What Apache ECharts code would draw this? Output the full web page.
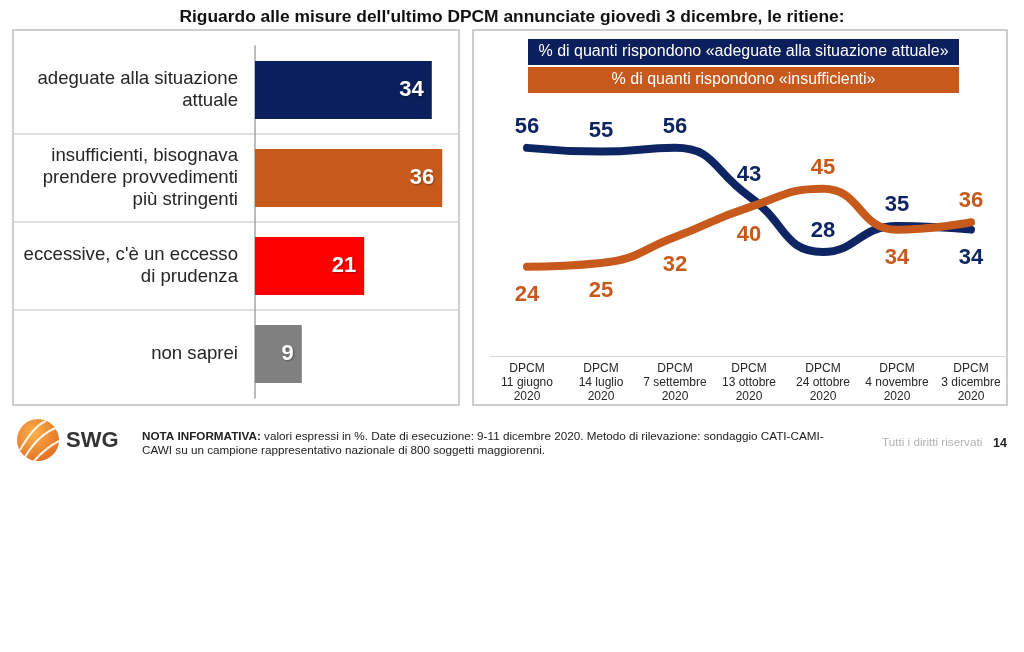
<!DOCTYPE html>
<html>
<head>
<meta charset="utf-8">
<script src="https://cdn.jsdelivr.net/npm/echarts@6/dist/echarts.min.js"></script>
<style>
html,body{margin:0;padding:0;background:#fff;}
#c{width:1024px;height:652px;}
</style>
</head>
<body>
<div id="c"></div>
<script>
// ---- data ----
const barCategories = [
  'adeguate alla situazione\nattuale',
  'insufficienti, bisognava\nprendere provvedimenti\npiù stringenti',
  "eccessive, c'è un eccesso\ndi prudenza",
  'non saprei'
];
const barValues = [34, 36, 21, 9];

const lineCategories = [
  'DPCM\n11 giugno\n2020',
  'DPCM\n14 luglio\n2020',
  'DPCM\n7 settembre\n2020',
  'DPCM\n13 ottobre\n2020',
  'DPCM\n24 ottobre\n2020',
  'DPCM\n4 novembre\n2020',
  'DPCM\n3 dicembre\n2020'
];
const adeguateValues = [56, 55, 56, 43, 28, 35, 34];
const insufficientiValues = [24, 25, 32, 40, 45, 34, 36];
const seriesNames = [
  '% di quanti rispondono «adeguate alla situazione attuale»',
  '% di quanti rispondono «insufficienti»'
];

// ---- styles ----
const NAVY = '#0d2563';
const ORANGE = '#c8591c';
const barColors = ['#0a1f5c', ORANGE, '#ff0000', '#808080'];
const adeguateLabelPos = ['top', 'top', 'top', 'top', 'top', 'top', 'bottom'];
const insufficientiLabelPos = ['bottom', 'bottom', 'bottom', 'bottom', 'top', 'bottom', 'top'];
const FONT = "'Liberation Sans', Arial, sans-serif";

const chart = echarts.init(document.getElementById('c'), null, {renderer: 'canvas'});

const lineLabel = (color) => ({
  show: true, color: color, fontSize: 22, fontWeight: 'bold', fontFamily: FONT, distance: 9
});
const itemLabel = (pos) => ({position: pos, distance: pos === 'top' ? 9 : 16});

const option = {
  backgroundColor: '#ffffff',
  animation: false,
  textStyle: {fontFamily: FONT},
  title: {
    text: "Riguardo alle misure dell'ultimo DPCM annunciate giovedì 3 dicembre, le ritiene:",
    left: 'center', top: 4,
    textStyle: {fontSize: 17.4, fontWeight: 'bold', color: '#111', fontFamily: FONT}
  },
  grid: [
    {left: 255, top: 46, width: 208, height: 352},
    {left: 490, top: 133, width: 518, height: 223}
  ],
  xAxis: [
    {gridIndex: 0, type: 'value', min: 0, max: 40, show: false},
    {gridIndex: 1, type: 'category', data: lineCategories, boundaryGap: true,
     axisLine: {show: true, lineStyle: {color: '#d9d9d9', width: 1}},
     axisTick: {show: false},
     axisLabel: {color: '#262626', fontSize: 12, lineHeight: 14, margin: 6, fontFamily: FONT, interval: 0}
    }
  ],
  yAxis: [
    {gridIndex: 0, type: 'category', data: barCategories, inverse: true,
     axisLine: {show: true, lineStyle: {color: '#a6a6a6', width: 1.5}},
     axisTick: {show: false},
     axisLabel: {color: '#262626', fontSize: 18.6, lineHeight: 22, margin: 17, align: 'right', fontFamily: FONT}
    },
    {gridIndex: 1, type: 'value', min: 0, max: 60, show: false, splitLine: {show: false}}
  ],
  series: [
    {
      type: 'bar', xAxisIndex: 0, yAxisIndex: 0,
      barCategoryGap: '34%',
      data: barValues.map((v, i) => ({value: v, itemStyle: {color: barColors[i]}})),
      label: {
        show: true, position: 'insideRight', distance: 8,
        color: '#fff', fontSize: 22, fontWeight: 'bold', fontFamily: FONT,
        textShadowColor: 'rgba(0,0,0,0.35)', textShadowBlur: 2, textShadowOffsetX: 1, textShadowOffsetY: 1
      }
    },
    {
      type: 'line', name: seriesNames[0], xAxisIndex: 1, yAxisIndex: 1,
      smooth: 0.5, showSymbol: true, symbol: 'circle', symbolSize: 2,
      itemStyle: {color: NAVY},
      lineStyle: {color: NAVY, width: 8, cap: 'round', join: 'round'},
      data: adeguateValues.map((v, i) => ({value: v, label: itemLabel(adeguateLabelPos[i])})),
      label: lineLabel(NAVY), z: 3
    },
    {
      type: 'line', name: seriesNames[1], xAxisIndex: 1, yAxisIndex: 1,
      smooth: 0.5, showSymbol: true, symbol: 'circle', symbolSize: 2,
      itemStyle: {color: ORANGE},
      lineStyle: {color: ORANGE, width: 8, cap: 'round', join: 'round'},
      data: insufficientiValues.map((v, i) => ({value: v, label: itemLabel(insufficientiLabelPos[i])})),
      label: lineLabel(ORANGE), z: 4
    }
  ],
  graphic: [
    // panel frames
    {type: 'rect', shape: {x: 13, y: 30, width: 446, height: 375}, style: {fill: null, stroke: '#bfbfbf', lineWidth: 1.5}, silent: true},
    {type: 'rect', shape: {x: 473, y: 30, width: 534, height: 375}, style: {fill: null, stroke: '#bfbfbf', lineWidth: 1.5}, silent: true},
    // row dividers
    {type: 'line', shape: {x1: 13, y1: 134, x2: 459, y2: 134}, style: {stroke: '#bfbfbf', lineWidth: 1.2}, silent: true},
    {type: 'line', shape: {x1: 13, y1: 222, x2: 459, y2: 222}, style: {stroke: '#bfbfbf', lineWidth: 1.2}, silent: true},
    {type: 'line', shape: {x1: 13, y1: 310, x2: 459, y2: 310}, style: {stroke: '#bfbfbf', lineWidth: 1.2}, silent: true},
    // legend boxes
    {type: 'rect', shape: {x: 528, y: 39, width: 431, height: 26}, style: {fill: '#0a1f5c'}, silent: true},
    {type: 'text', x: 743.5, y: 52, style: {text: seriesNames[0], fill: '#fff', font: "16px " + FONT, align: 'center', verticalAlign: 'middle'}, silent: true},
    {type: 'rect', shape: {x: 528, y: 67, width: 431, height: 26}, style: {fill: ORANGE}, silent: true},
    {type: 'text', x: 743.5, y: 80, style: {text: seriesNames[1], fill: '#fff', font: "16px " + FONT, align: 'center', verticalAlign: 'middle'}, silent: true},
    // logo
    {type: 'circle', shape: {cx: 38, cy: 440, r: 21}, style: {fill: new echarts.graphic.RadialGradient(0.4, 0.35, 0.8, [{offset: 0, color: '#f9b24c'}, {offset: 1, color: '#e2641c'}])}, silent: true},
    {type: 'bezierCurve', shape: {x1: 20, y1: 450, x2: 46, y2: 421, cpx1: 28, cpy1: 436, cpx2: 36, cpy2: 425}, style: {stroke: '#fff', lineWidth: 2, fill: null, opacity: 0.9}, silent: true},
    {type: 'bezierCurve', shape: {x1: 25, y1: 457, x2: 56, y2: 428, cpx1: 34, cpy1: 442, cpx2: 45, cpy2: 432}, style: {stroke: '#fff', lineWidth: 2, fill: null, opacity: 0.9}, silent: true},
    {type: 'bezierCurve', shape: {x1: 34, y1: 461, x2: 59, y2: 441, cpx1: 42, cpy1: 452, cpx2: 51, cpy2: 445}, style: {stroke: '#fff', lineWidth: 2, fill: null, opacity: 0.9}, silent: true},
    {type: 'text', x: 66, y: 441, style: {text: 'SWG', fill: '#333', font: "bold 22px " + FONT, verticalAlign: 'middle'}, silent: true},
    // note
    {type: 'text', x: 142, y: 430, style: {
      text: '{b|NOTA INFORMATIVA:} valori espressi in %. Date di esecuzione: 9-11 dicembre 2020. Metodo di rilevazione: sondaggio CATI-CAMI-\nCAWI su un campione rappresentativo nazionale di 800 soggetti maggiorenni.',
      fill: '#222', font: "11.7px " + FONT, lineHeight: 14,
      rich: {b: {fontWeight: 'bold', fontSize: 11.7, fill: '#222'}}
    }, silent: true},
    {type: 'text', x: 882, y: 443, style: {text: 'Tutti i diritti riservati', fill: '#b3b3b3', font: "11.7px " + FONT, verticalAlign: 'middle'}, silent: true},
    {type: 'text', x: 993, y: 444, style: {text: '14', fill: '#222', font: "bold 12.5px " + FONT, verticalAlign: 'middle'}, silent: true}
  ]
};
chart.setOption(option);
</script>
</body>
</html>
